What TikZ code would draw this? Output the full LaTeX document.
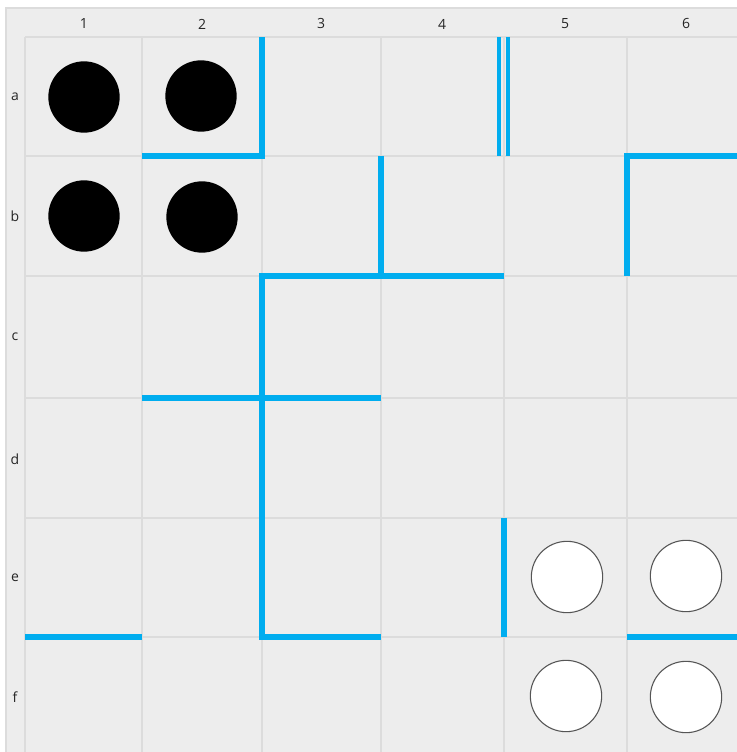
\documentclass[tikz,border=0pt]{standalone}
\usepackage{fontspec}
\setmainfont{Open Sans}
\definecolor{bg}{HTML}{EDEDED}
\definecolor{gridc}{HTML}{DCDCDC}
\definecolor{wallc}{RGB}{0,173,239}
\definecolor{ringc}{HTML}{555555}
\begin{document}
\begin{tikzpicture}[x=0.75pt,y=-0.75pt,
  gridline/.style={draw=gridc,line width=0.8pt},
  wall/.style={draw=wallc,line width=4.5pt,line cap=butt,line join=miter},
  thinwall/.style={draw=wallc,line width=3pt},
  blackdisc/.style={circle,fill=black,minimum size=53.5pt,inner sep=0pt},
  whitedisc/.style={circle,fill=white,draw=ringc,line width=0.8pt,minimum size=53.5pt,inner sep=0pt},
  lab/.style={font=\fontsize{10.5pt}{12pt}\selectfont,text=black!85,inner sep=0pt}]
\useasboundingbox (0,0) rectangle (737,752);
\fill[white] (0,0) rectangle (737,752);
\fill[bg] (6,8) rectangle (737,752);
\draw[gridline] (6,752) -- (6,8) -- (737,8);
% grid
\foreach \x in {25,142,262,381,504,627} \draw[gridline] (\x,37) -- (\x,752);
\foreach \y in {37,156,276,398,518,637} \draw[gridline] (25,\y) -- (737,\y);
% column labels
\node[lab] (c1) at (84,24) {1};
\node[lab] (c2) at (202,24) {2};
\node[lab] (c3) at (321,24) {3};
\node[lab] (c4) at (442,24) {4};
\node[lab] (c5) at (565,24) {5};
\node[lab] (c6) at (686,24) {6};
% row labels
\node[lab] (ra) at (15,97) {a};
\node[lab] (rb) at (15,216) {b};
\node[lab] (rc) at (15,337) {c};
\node[lab] (rd) at (15,459) {d};
\node[lab] (re) at (15,578) {e};
\node[lab] (rf) at (15,697) {f};
% walls
\draw[wall] (142,156) -- (262,156) -- (262,37);
\draw[thinwall] (499,37) -- (499,156);
\draw[thinwall] (508,37) -- (508,156);
\draw[wall] (381,156) -- (381,276);
\draw[wall] (504,276) -- (262,276) -- (262,637) -- (381,637);
\draw[wall] (142,398) -- (381,398);
\draw[wall] (737,156) -- (627,156) -- (627,276);
\draw[wall] (504,518) -- (504,637);
\draw[wall] (25,637) -- (142,637);
\draw[wall] (627,637) -- (737,637);
% discs
\node[blackdisc] (a1) at (84,97) {};
\node[blackdisc] (a2) at (201,96) {};
\node[blackdisc] (b1) at (84,216) {};
\node[blackdisc] (b2) at (202,217) {};
\node[whitedisc] (e5) at (567,577) {};
\node[whitedisc] (e6) at (686,576) {};
\node[whitedisc] (f5) at (566,696) {};
\node[whitedisc] (f6) at (686,697) {};
\end{tikzpicture}
\end{document}
